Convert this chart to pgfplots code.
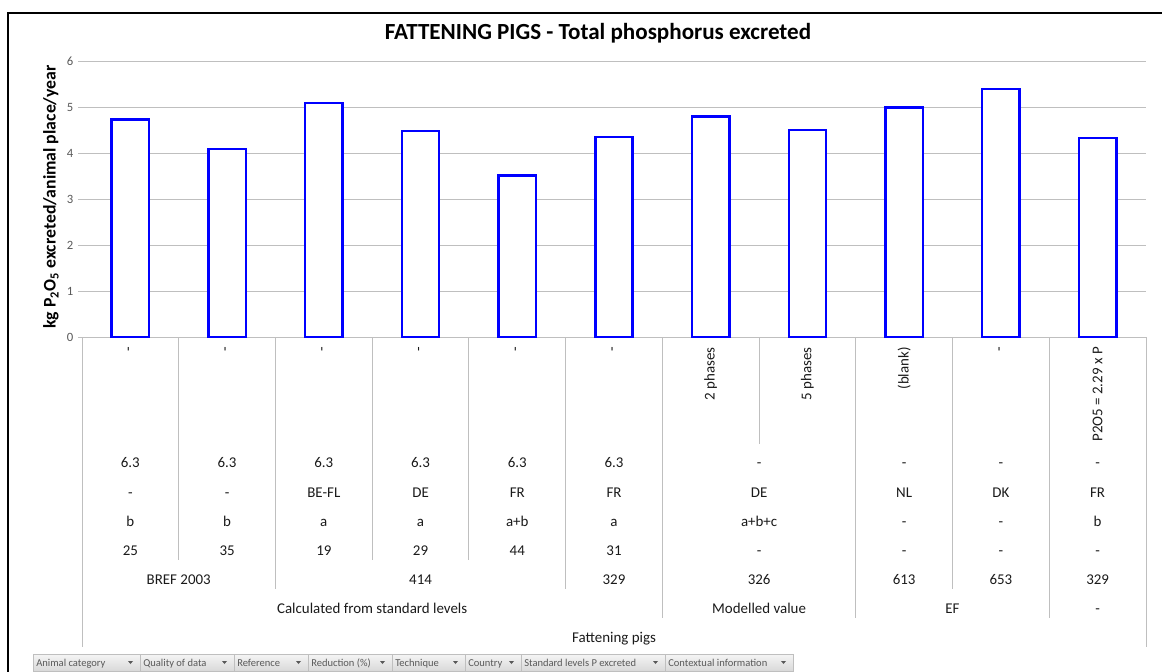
\documentclass[border=0pt]{standalone}
\usepackage{fontspec}
\setmainfont{Carlito}
\usepackage{pgfplots}
\pgfplotsset{compat=1.18}
\definecolor{gridc}{HTML}{BFBFBF}
\definecolor{tickc}{HTML}{595959}
\definecolor{labc}{HTML}{1A1A1A}
\definecolor{barblue}{HTML}{0000FF}
\begin{document}
\begin{tikzpicture}
\useasboundingbox (0,0) rectangle (871.5pt,-503.25pt);
\begin{axis}[
  at={(61.5pt,-252.75pt)}, anchor=south west,
  scale only axis, width=798pt, height=206.625pt,
  xmin=-0.5, xmax=10.5, ymin=0, ymax=6,
  xtick=\empty, ytick={0,1,2,3,4,5,6},
  axis x line=bottom, axis y line=left,
  axis line style={draw=none,-},
  ymajorgrids, grid style={draw=gridc, line width=0.75pt},
  tick align=outside, major tick length=3pt,
  ytick style={draw=gridc, line width=0.75pt},
  yticklabel style={font=\fontsize{9.5}{11}\selectfont, text=tickc},
  /pgf/number format/assume math mode=true,
  clip=false,
]
\addplot[ybar, bar width=0.386, draw=barblue, fill=white, line width=1.8pt]
  coordinates {(0,4.74) (1,4.10) (2,5.10) (3,4.49) (4,3.52) (5,4.35) (6,4.80) (7,4.51) (8,5.00) (9,5.40) (10,4.34)};
\end{axis}
\begin{scope}[x=0.75pt, y=-0.75pt,
  cl/.style={font=\fontsize{11.2}{13}\selectfont, text=labc, anchor=base, inner sep=0pt},
  rl/.style={font=\fontsize{11.2}{13}\selectfont, text=labc, rotate=90, anchor=east, inner sep=0pt}]
% outer frame
\draw[black, line width=1.6pt] (8,672) -- (8,13) -- (1163,13);
% title
\node[font=\bfseries\fontsize{17.3}{20}\selectfont, anchor=base] at (598,39) {FATTENING PIGS - Total phosphorus excreted};
% y label
\node[rotate=90, font=\bfseries\fontsize{13.3}{15}\selectfont] at (51,197) {kg P\textsubscript{2}O\textsubscript{5} excreted/animal place/year};
% separators
\foreach \x/\yb in {82/647, 178.7/560, 275.5/589, 372.2/560, 468.9/560, 565.6/589, 662.4/618, 759.1/444, 855.8/618, 952.5/589, 1049.3/618, 1146/647}
  \draw[gridc, line width=0.75pt] (\x,337) -- (\x,\yb);
% contextual information (rotated)
\foreach \x/\t in {130.36/-, 227.09/-, 323.82/-, 420.55/-, 517.27/-, 614.0/-, 710.73/2 phases, 807.45/5 phases, 904.18/(blank), 1000.9/-, 1097.6/P2O5 = 2.29 x P}
  \node[rl] at (\x,347) {\t};
% standard levels
\foreach \x/\t in {130.36/6.3, 227.09/6.3, 323.82/6.3, 420.55/6.3, 517.27/6.3, 614.0/6.3, 759.1/-, 904.18/-, 1000.9/-, 1097.6/-}
  \node[cl] at (\x,467.8) {\t};
% country
\foreach \x/\t in {130.36/-, 227.09/-, 323.82/BE-FL, 420.55/DE, 517.27/FR, 614.0/FR, 759.1/DE, 904.18/NL, 1000.9/DK, 1097.6/FR}
  \node[cl] at (\x,497.8) {\t};
% technique
\foreach \x/\t in {130.36/b, 227.09/b, 323.82/a, 420.55/a, 517.27/a+b, 614.0/a, 759.1/a+b+c, 904.18/-, 1000.9/-, 1097.6/b}
  \node[cl] at (\x,526.8) {\t};
% reduction
\foreach \x/\t in {130.36/25, 227.09/35, 323.82/19, 420.55/29, 517.27/44, 614.0/31, 759.1/-, 904.18/-, 1000.9/-, 1097.6/-}
  \node[cl] at (\x,555.8) {\t};
% reference
\foreach \x/\t in {178.7/BREF 2003, 420.55/414, 614.0/329, 759.1/326, 904.18/613, 1000.9/653, 1097.6/329}
  \node[cl] at (\x,584.8) {\t};
% quality
\foreach \x/\t in {372.2/Calculated from standard levels, 759.1/Modelled value, 952.5/EF, 1097.6/-}
  \node[cl] at (\x,613.8) {\t};
% animal category
\node[cl] at (614,642.8) {Fattening pigs};
% pivot field buttons
\foreach \a/\b/\t in {33/140/Animal category, 140/234/Quality of data, 234/308/Reference, 308/392/Reduction (\%), 392/465/Technique, 465/521/Country, 521/665/Standard levels P excreted, 665/793/Contextual information}{
  \shade[top color=gray!8, bottom color=gray!30, draw=gray!50, line width=0.5pt] (\a,654) rectangle (\b,671);
  \node[anchor=base west, font=\fontsize{7.9}{9}\selectfont, text=tickc, inner sep=0pt] at (\a+3,666) {\t};
  \fill[black!65] (\b-12,661) -- ++(5,0) -- ++(-2.5,3) -- cycle;
}
\end{scope}
\end{tikzpicture}
\end{document}
